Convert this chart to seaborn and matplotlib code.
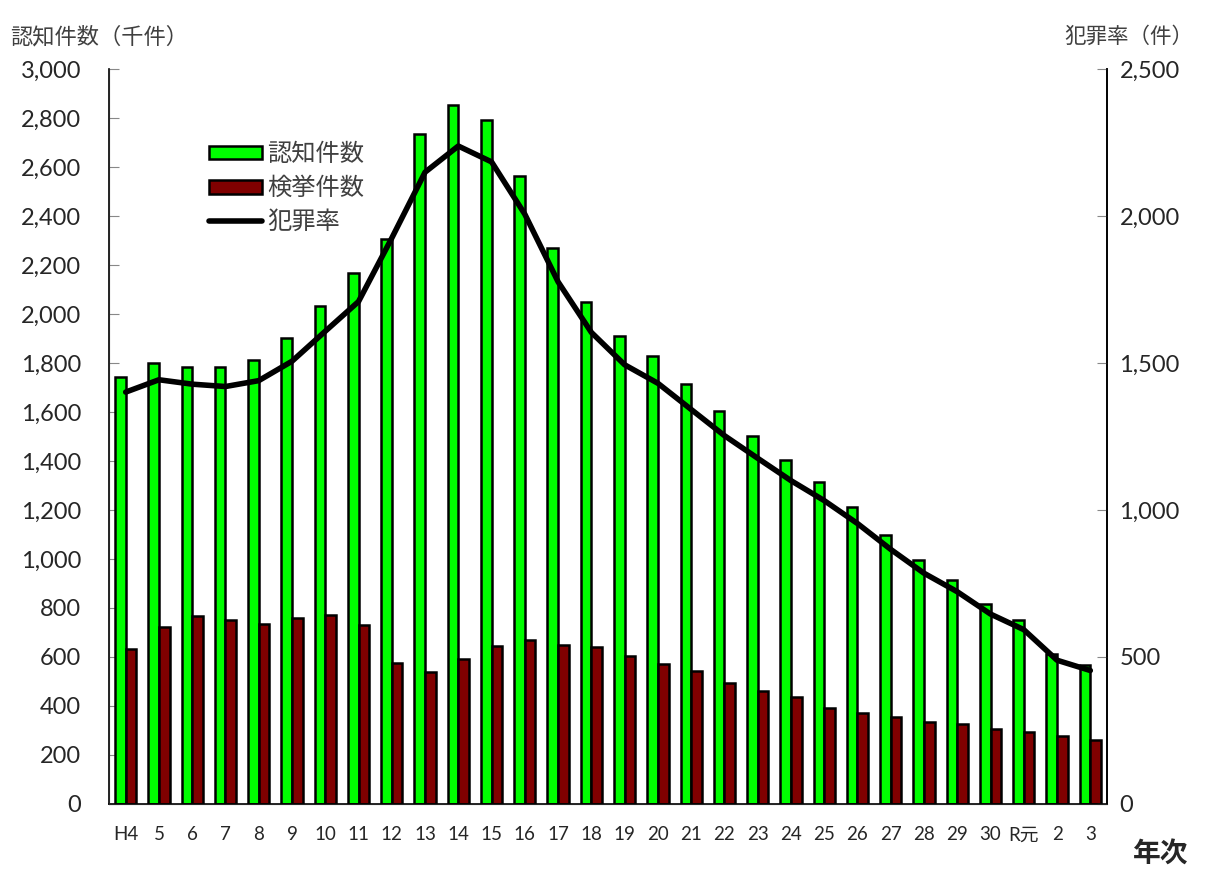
import numpy as np
import pandas as pd
import matplotlib
matplotlib.use('Agg')
import matplotlib.pyplot as plt
import seaborn as sns
from matplotlib.patches import Patch
from matplotlib.lines import Line2D

# year labels (Heisei 4 .. Reiwa 3)
years = ['H4', '5', '6', '7', '8', '9', '10', '11', '12', '13', '14', '15', '16', '17', '18',
         '19', '20', '21', '22', '23', '24', '25', '26', '27', '28', '29', '30', 'R元', '2', '3']

# 認知件数 (thousand)
ninchi = [1742, 1801, 1784, 1782, 1812, 1900, 2034, 2166, 2305, 2736, 2854, 2790, 2563, 2270, 2051,
          1909, 1827, 1714, 1604, 1503, 1403, 1314, 1212, 1099, 996, 915, 817, 749, 614, 568]

# 検挙件数 (thousand)
kenkyo = [634, 723, 766, 752, 736, 758, 771, 729, 576, 540, 591, 646, 668, 649, 640,
          603, 571, 543, 495, 463, 437, 393, 370, 355, 336, 325, 306, 293, 278, 262]

# 犯罪率 (per 100k)
rate = [1401, 1443, 1428, 1420, 1440, 1506, 1608, 1709, 1925, 2149, 2238, 2184, 2006, 1776, 1604,
        1494, 1431, 1342, 1253, 1176, 1100, 1032, 954, 866, 785, 722, 646, 593, 489, 454]

series_names = ['認知件数', '検挙件数', '犯罪率']
bar_colors = ['#00ff00', '#800000']

df = pd.DataFrame({'year': years * 2,
                   'value': ninchi + kenkyo,
                   'series': [series_names[0]] * len(years) + [series_names[1]] * len(years)})

sns.set_style('white')
plt.rcParams['font.family'] = ['Lato', 'Noto Sans CJK JP', 'DejaVu Sans']
jp = ['Noto Sans CJK JP', 'DejaVu Sans']

fig = plt.figure(figsize=(12.09, 8.69), dpi=100)
ax = fig.add_axes([0.0902, 0.0748, 0.8254, 0.8458])

sns.barplot(data=df, x='year', y='value', hue='series', hue_order=series_names[:2],
            palette=bar_colors, saturation=1, edgecolor='black', linewidth=1.8, width=0.64,
            dodge=True, legend=False, ax=ax)

ax.set_xlim(-0.5, len(years) - 0.5)
ax.set_ylim(0, 3000)
ax.set_yticks(np.arange(0, 3001, 200))
ax.set_yticklabels([f'{v:,}' for v in range(0, 3001, 200)], fontsize=17)
ax.set_xlabel('')
ax.set_ylabel('')

# category ticks in between bars, labels at centres
ax.set_xticks(np.arange(len(years)))
ax.set_xticklabels(years, fontsize=13.5)
ax.set_xticks(np.arange(len(years) + 1) - 0.5, minor=True)
ax.tick_params(axis='x', which='major', length=0, pad=16)
ax.tick_params(axis='x', which='minor', direction='in', length=7, color='#888888')
ax.tick_params(axis='y', direction='in', length=7, color='#888888', pad=20)

for s in ['left', 'bottom', 'right']:
    ax.spines[s].set_color('black')
    ax.spines[s].set_linewidth(1.2)
ax.spines['top'].set_visible(False)

# crime rate on secondary axis
ax2 = ax.twinx()
sns.lineplot(x=np.arange(len(years)), y=rate, color='black', linewidth=4, ax=ax2)
ax2.set_ylim(0, 2500)
ax2.set_yticks(np.arange(0, 2501, 500))
ax2.set_yticklabels([f'{v:,}' for v in range(0, 2501, 500)], fontsize=17)
ax2.tick_params(axis='y', direction='in', length=7, color='#888888', pad=9)
ax2.spines['top'].set_visible(False)
ax2.spines['right'].set_color('black')
ax2.spines['right'].set_linewidth(1.2)
ax2.set_xlim(-0.5, len(years) - 0.5)

handles = [Patch(facecolor=bar_colors[0], edgecolor='black', linewidth=1.8),
           Patch(facecolor=bar_colors[1], edgecolor='black', linewidth=1.8),
           Line2D([0], [0], color='black', linewidth=4)]
leg = ax2.legend(handles, series_names, loc='upper left', bbox_to_anchor=(0.09, 0.915),
                 frameon=False, prop={'family': jp, 'size': 17.5}, handlelength=2.2,
                 handleheight=0.5, labelspacing=0.33, handletextpad=0.2, borderaxespad=0)
for t in leg.get_texts():
    t.set_color('#404040')

# axis titles
fig.text(0.008, 0.958, '認知件数（千件）', family=jp, fontsize=16, color='#404040', va='center')
fig.text(0.987, 0.958, '犯罪率（件）', family=jp, fontsize=15.5, color='#404040', va='center', ha='right')
fig.text(0.96, 0.017, '年次', family=jp, fontsize=20, fontweight='bold', va='center', ha='center')

fig.savefig('out.png', dpi=100)
